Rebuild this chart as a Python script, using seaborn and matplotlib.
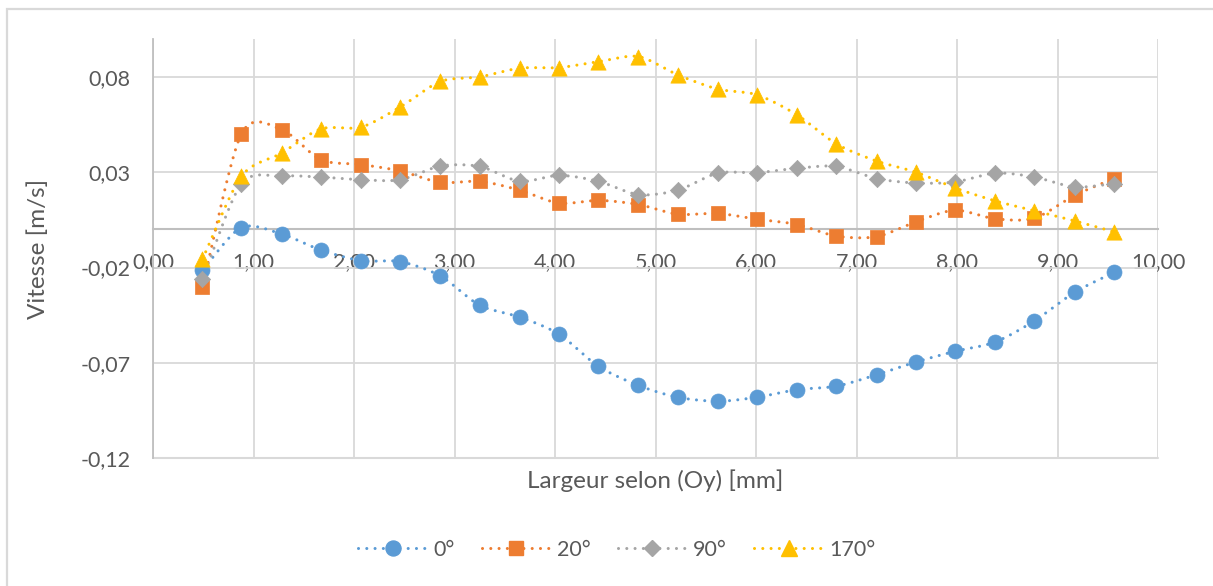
import numpy as np
import pandas as pd
import matplotlib
matplotlib.use("Agg")
import matplotlib.pyplot as plt
from matplotlib.lines import Line2D
from matplotlib.patches import Rectangle
import seaborn as sns

# ---------------- data ----------------
x_pos = [0.49, 0.88, 1.28, 1.67, 2.07, 2.46, 2.86, 3.25, 3.65, 4.04, 4.43, 4.83,
         5.22, 5.62, 6.01, 6.41, 6.80, 7.20, 7.59, 7.98, 8.38, 8.77, 9.17, 9.56]

v_0 = [-0.0213, 0.0010, -0.0024, -0.0108, -0.0164, -0.0169, -0.0244, -0.0398,
       -0.0460, -0.0550, -0.0718, -0.0819, -0.0881, -0.0902, -0.0881, -0.0841,
       -0.0823, -0.0763, -0.0696, -0.0640, -0.0591, -0.0480, -0.0330, -0.0226]
v_20 = [-0.0300, 0.0502, 0.0524, 0.0366, 0.0341, 0.0307, 0.0247, 0.0253,
        0.0206, 0.0138, 0.0153, 0.0131, 0.0080, 0.0084, 0.0054, 0.0026,
        -0.0035, -0.0038, 0.0040, 0.0101, 0.0056, 0.0059, 0.0179, 0.0267]
v_90 = [-0.0261, 0.0240, 0.0280, 0.0275, 0.0261, 0.0261, 0.0333, 0.0331,
        0.0253, 0.0284, 0.0253, 0.0183, 0.0206, 0.0296, 0.0298, 0.0322,
        0.0331, 0.0267, 0.0244, 0.0249, 0.0296, 0.0275, 0.0223, 0.0240]
v_170 = [-0.0157, 0.0279, 0.0401, 0.0528, 0.0537, 0.0643, 0.0777, 0.0801,
         0.0847, 0.0850, 0.0881, 0.0908, 0.0812, 0.0737, 0.0707, 0.0601,
         0.0449, 0.0359, 0.0301, 0.0218, 0.0150, 0.0098, 0.0045, -0.0012]

series_names = ["0°", "20°", "90°", "170°"]
series_values = [v_0, v_20, v_90, v_170]

x_ticks = [0, 1, 2, 3, 4, 5, 6, 7, 8, 9, 10]
x_tick_labels = ["0,00", "1,00", "2,00", "3,00", "4,00", "5,00", "6,00",
                 "7,00", "8,00", "9,00", "10,00"]
y_ticks = [-0.12, -0.07, -0.02, 0.03, 0.08]
y_tick_labels = ["-0,12", "-0,07", "-0,02", "0,03", "0,08"]

x_label = "Largeur selon (Oy) [mm]"
y_label = "Vitesse [m/s]"

# ---------------- style ----------------
colors = ["#5B9BD5", "#ED7D31", "#A5A5A5", "#FFC000"]
markers = ["o", "s", "D", "^"]
marker_sizes = [10.8, 10.5, 8.3, 11.0]

sns.set_theme(style="white")
plt.rcParams["font.family"] = ["Lato", "DejaVu Sans"]
text_color = "#595959"
fs_tick = 15.5
fs_title = 17.5
fs_leg = 15.5


def smooth(xs, ys, n=20, s=0.42):
    """Cardinal-spline smoothing (Excel-like smoothed line), rendering only."""
    P = np.column_stack([xs, ys]).astype(float)
    P = np.vstack([P[0] * 2 - P[1], P, P[-1] * 2 - P[-2]])
    out = []
    t = np.linspace(0, 1, n, endpoint=False)[:, None]
    h00 = 2 * t ** 3 - 3 * t ** 2 + 1
    h10 = t ** 3 - 2 * t ** 2 + t
    h01 = -2 * t ** 3 + 3 * t ** 2
    h11 = t ** 3 - t ** 2
    for i in range(1, len(P) - 2):
        p0, p1, p2, p3 = P[i - 1], P[i], P[i + 1], P[i + 2]
        m1 = s * (p2 - p0)
        m2 = s * (p3 - p1)
        out.append(h00 * p1 + h10 * m1 + h01 * p2 + h11 * m2)
    out.append(P[-2][None, :])
    out = np.vstack(out)
    return out[:, 0], out[:, 1]


W, H = 1213, 586
fig = plt.figure(figsize=(W / 100, H / 100), dpi=100)
ax = fig.add_axes([153 / W, 1 - 458 / H, (1158 - 153) / W, (458 - 39) / H])

# outer chart border
fig.patches.append(Rectangle((6.5 / W, -0.05), 1.2, (1 - 9.5 / H) + 0.05,
                             transform=fig.transFigure, fill=False,
                             edgecolor="#D9D9D9", linewidth=1.6, zorder=0))

dot_style = dict(linestyle=(0, (0.01, 2.7)), dash_capstyle="round", linewidth=2.2)

for name, vals, c, m, ms in zip(series_names, series_values, colors, markers, marker_sizes):
    sx, sy = smooth(x_pos, vals)
    sns.lineplot(x=sx, y=sy, ax=ax, sort=False, estimator=None, color=c,
                 legend=False, zorder=3, **dot_style)
    df = pd.DataFrame({"x": x_pos, "y": vals})
    sns.scatterplot(data=df, x="x", y="y", ax=ax, marker=m, s=ms ** 2, color=c,
                    edgecolor=c, linewidth=0.5, legend=False, zorder=4)

ax.set_xlim(0, 10)
ax.set_ylim(-0.12, 0.10)
ax.set_xticks(x_ticks)
ax.set_xticklabels(x_tick_labels)
ax.set_yticks(y_ticks)
ax.set_yticklabels(y_tick_labels)

ax.grid(True, color="#D9D9D9", linewidth=1.3)
ax.set_axisbelow(True)

for side in ["top", "right"]:
    ax.spines[side].set_visible(False)
ax.spines["bottom"].set_position(("data", 0))
ax.spines["bottom"].set_color("#BFBFBF")
ax.spines["bottom"].set_linewidth(1.5)
ax.spines["bottom"].set_zorder(2)
ax.spines["left"].set_color("#BFBFBF")
ax.spines["left"].set_linewidth(1.3)

ax.tick_params(axis="x", length=0, pad=16.5, labelsize=fs_tick, labelcolor=text_color)
ax.tick_params(axis="y", length=0, pad=16.0, labelsize=fs_tick, labelcolor=text_color)

# bottom gridline at -0.12
ax.axhline(-0.12, color="#D9D9D9", linewidth=1.5, zorder=1, clip_on=False)

ax.set_xlabel(x_label, fontsize=fs_title, color=text_color)
ax.set_ylabel(y_label, fontsize=fs_title, color=text_color)
ax.xaxis.set_label_coords(0.5, (458 - 481) / 419)
ax.xaxis.label.set_va("center")
ax.yaxis.set_label_coords((38 - 153) / 1005, 0.5)
ax.yaxis.label.set_va("center")

handles = [Line2D([0], [0], color=c, marker=m, markersize=ms, markeredgecolor=c,
                  **dot_style)
           for c, m, ms in zip(colors, markers, marker_sizes)]
leg = fig.legend(handles, series_names, loc="center", bbox_to_anchor=(617 / W, 1 - 550 / H),
                 ncol=4, frameon=False, fontsize=fs_leg, handlelength=3.2,
                 handletextpad=0.3, columnspacing=1.25, numpoints=1)
for t in leg.get_texts():
    t.set_color(text_color)

fig.savefig("out.png", dpi=100)
